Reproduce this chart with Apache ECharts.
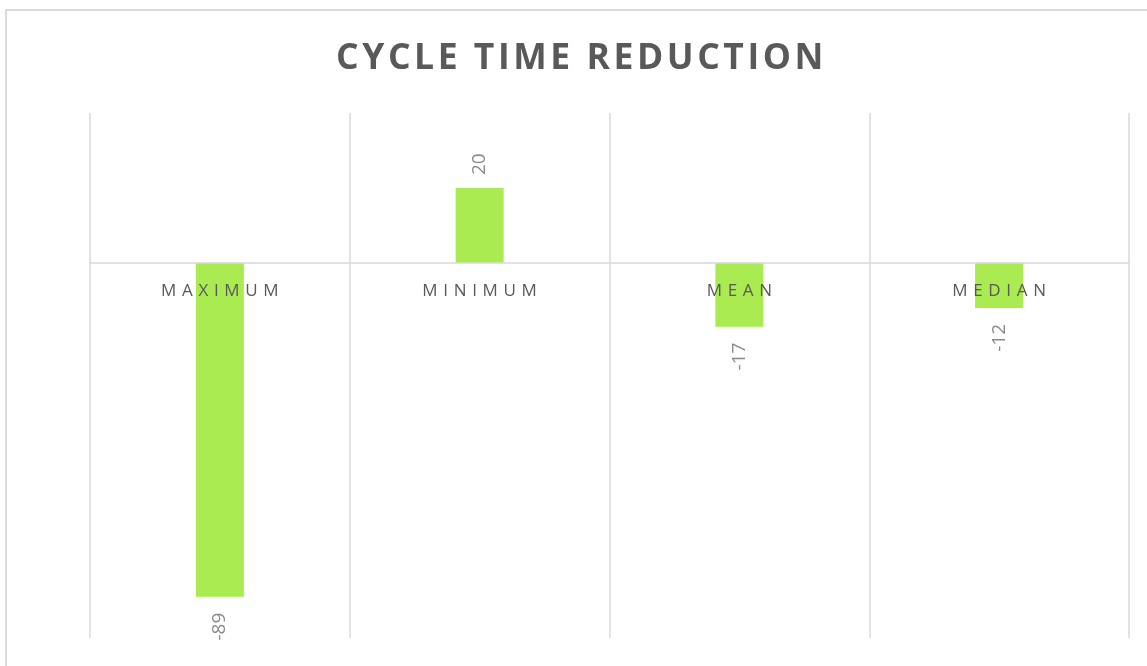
<!DOCTYPE html>
<html>
<head>
<meta charset="utf-8">
<script src="https://cdn.jsdelivr.net/npm/echarts@6/dist/echarts.min.js"></script>
<style>
  html, body { margin: 0; padding: 0; background: #ffffff; }
  #chart { width: 1147px; height: 666px; }
</style>
</head>
<body>
<div id="chart"></div>
<script>
// Chart content
const titleText = 'CYCLE TIME REDUCTION';
const categories = ['MAXIMUM', 'MINIMUM', 'MEAN', 'MEDIAN'];
const values = [-89, 20, -17, -12];
const valueMin = -100;
const valueMax = 40;

// Spread letters out with narrow unicode spaces (tracked caps look)
function spaced(text, gap) {
  return text.split('').join(gap);
}

const GRID_COLOR = '#d9d9d9';
const BAR_COLOR = '#a9eb51';

const CHART_H = 666;
const GRID = { left: 90, right: 18, top: 113, bottom: 28 };
// The category axis sits on the zero line, so lift it from the grid bottom
const plotH = CHART_H - GRID.top - GRID.bottom;
const zeroOffset = -plotH * (0 - valueMin) / (valueMax - valueMin);

const chart = echarts.init(document.getElementById('chart'), null, { renderer: 'canvas' });

const barData = values.map(function (v) {
  const positive = v >= 0;
  return {
    value: v,
    label: {
      position: positive ? 'top' : 'bottom',
      align: positive ? 'left' : 'right',
      distance: positive ? 13 : 16
    }
  };
});

chart.setOption({
  backgroundColor: '#ffffff',
  animation: false,
  title: {
    text: spaced(titleText, '\u200A'),
    left: 331,
    top: 36,
    textStyle: {
      fontFamily: 'Open Sans',
      fontWeight: 'bold',
      fontSize: 35.5,
      color: '#595959'
    }
  },
  graphic: [{
    type: 'rect',
    silent: true,
    shape: { x: 6, y: 10, width: 1200, height: 700 },
    style: { fill: 'none', stroke: GRID_COLOR, lineWidth: 2 }
  }],
  grid: {
    left: GRID.left, right: GRID.right, top: GRID.top, bottom: GRID.bottom,
    outerBoundsMode: 'none'
  },
  xAxis: {
    type: 'category',
    data: categories,
    position: 'bottom',
    offset: zeroOffset,
    z: 10,
    axisLine: { show: true, onZero: false, lineStyle: { color: GRID_COLOR, width: 1.5 } },
    axisTick: { show: false },
    splitLine: { show: true, lineStyle: { color: GRID_COLOR, width: 1.5 } },
    axisLabel: {
      margin: 20,
      fontFamily: 'Open Sans',
      fontSize: 17,
      color: '#595959',
      formatter: function (v) { return spaced(v, '\u2004'); }
    }
  },
  yAxis: {
    type: 'value',
    min: valueMin,
    max: valueMax,
    show: false,
    splitLine: { show: false }
  },
  series: [{
    type: 'bar',
    data: barData,
    barWidth: 48,
    itemStyle: { color: BAR_COLOR },
    label: {
      show: true,
      rotate: 90,
      verticalAlign: 'middle',
      fontFamily: 'Open Sans',
      fontSize: 19,
      color: '#8a8a8a'
    }
  }]
});
</script>
</body>
</html>
